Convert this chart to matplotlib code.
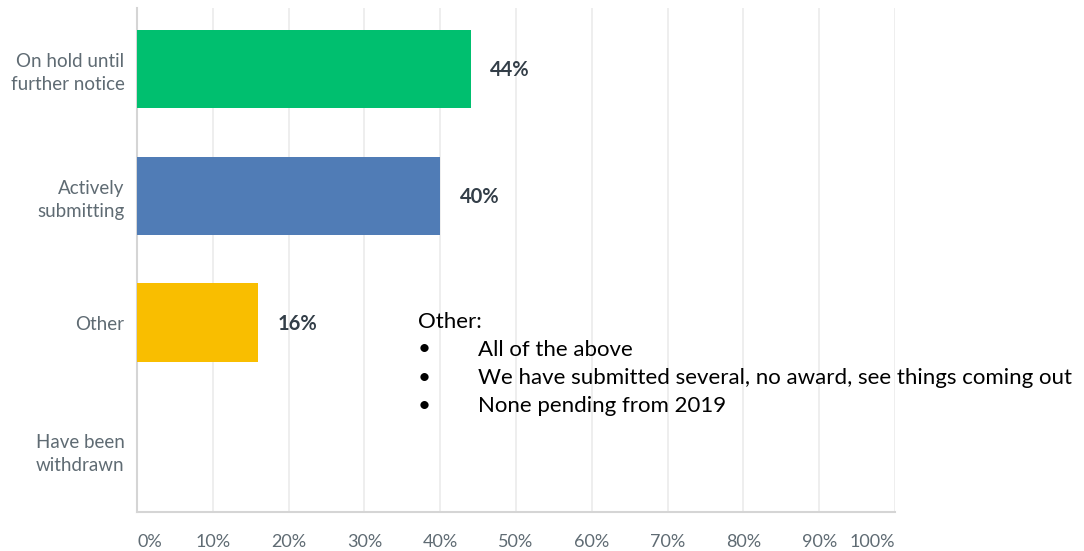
import matplotlib
matplotlib.use("Agg")
import matplotlib.pyplot as plt

# Survey responses (share of respondents, %)
categories = ["On hold until\nfurther notice", "Actively\nsubmitting", "Other", "Have been\nwithdrawn"]
values = [44, 40, 16, 0]
bar_colors = ["#00BF6F", "#507CB6", "#F9BE00", "#A0A0A0"]
tick_values = [0, 10, 20, 30, 40, 50, 60, 70, 80, 90, 100]
tick_labels = [f"{t}%" for t in tick_values]
other_title = "Other:"
other_items = [
    "All of the above",
    "We have submitted several, no award, see things coming out",
    "None pending from 2019",
]

plt.rcParams["font.family"] = ["Lato", "DejaVu Sans"]

fig = plt.figure(figsize=(10.84, 5.51), dpi=100)
ax = fig.add_axes([137 / 1084, 39 / 551, 758 / 1084, 504 / 551])

y = list(range(len(categories)))
bars = ax.barh(y, values, height=0.62, color=bar_colors, zorder=3)

for yi, v in zip(y, values):
    if v > 0:
        ax.text(v + 2.6, yi + 0.01, f"{v}%", va="center", ha="left",
                fontsize=14.5, fontweight="bold", color="#333E48")

ax.set_xlim(0, 100)
ax.set_ylim(3.49, -0.48)

ax.set_yticks(y)
ax.set_yticklabels(categories, fontsize=13.5, color="#5F6B73", linespacing=1.38)
ax.tick_params(axis="y", length=0, pad=9)

ax.set_xticks(tick_values)
ax.set_xticklabels(tick_labels, fontsize=13, color="#5F6B73")
ax.tick_params(axis="x", length=0, pad=16)
xt = ax.get_xticklabels()
xt[0].set_horizontalalignment("left")
xt[-1].set_horizontalalignment("right")

ax.grid(axis="x", color="#EBEBEB", linewidth=1.2, zorder=0)
for side in ["top", "right"]:
    ax.spines[side].set_visible(False)
for side in ["left", "bottom"]:
    ax.spines[side].set_color("#D5D5D5")
    ax.spines[side].set_linewidth(1.5)

# Notes on the "Other" responses
fx = lambda px: px / 1084
fy = lambda py: 1 - py / 551
fig.text(fx(418), fy(321.5), other_title, fontsize=16, color="black", va="center", ha="left")
for i, item in enumerate(other_items):
    yy = 349.5 + i * 28.3
    fig.text(fx(418), fy(yy), "\u2022", fontsize=16, color="black", va="center", ha="left")
    fig.text(fx(478), fy(yy), item, fontsize=16, color="black", va="center", ha="left")

fig.savefig("out.png", dpi=100)
